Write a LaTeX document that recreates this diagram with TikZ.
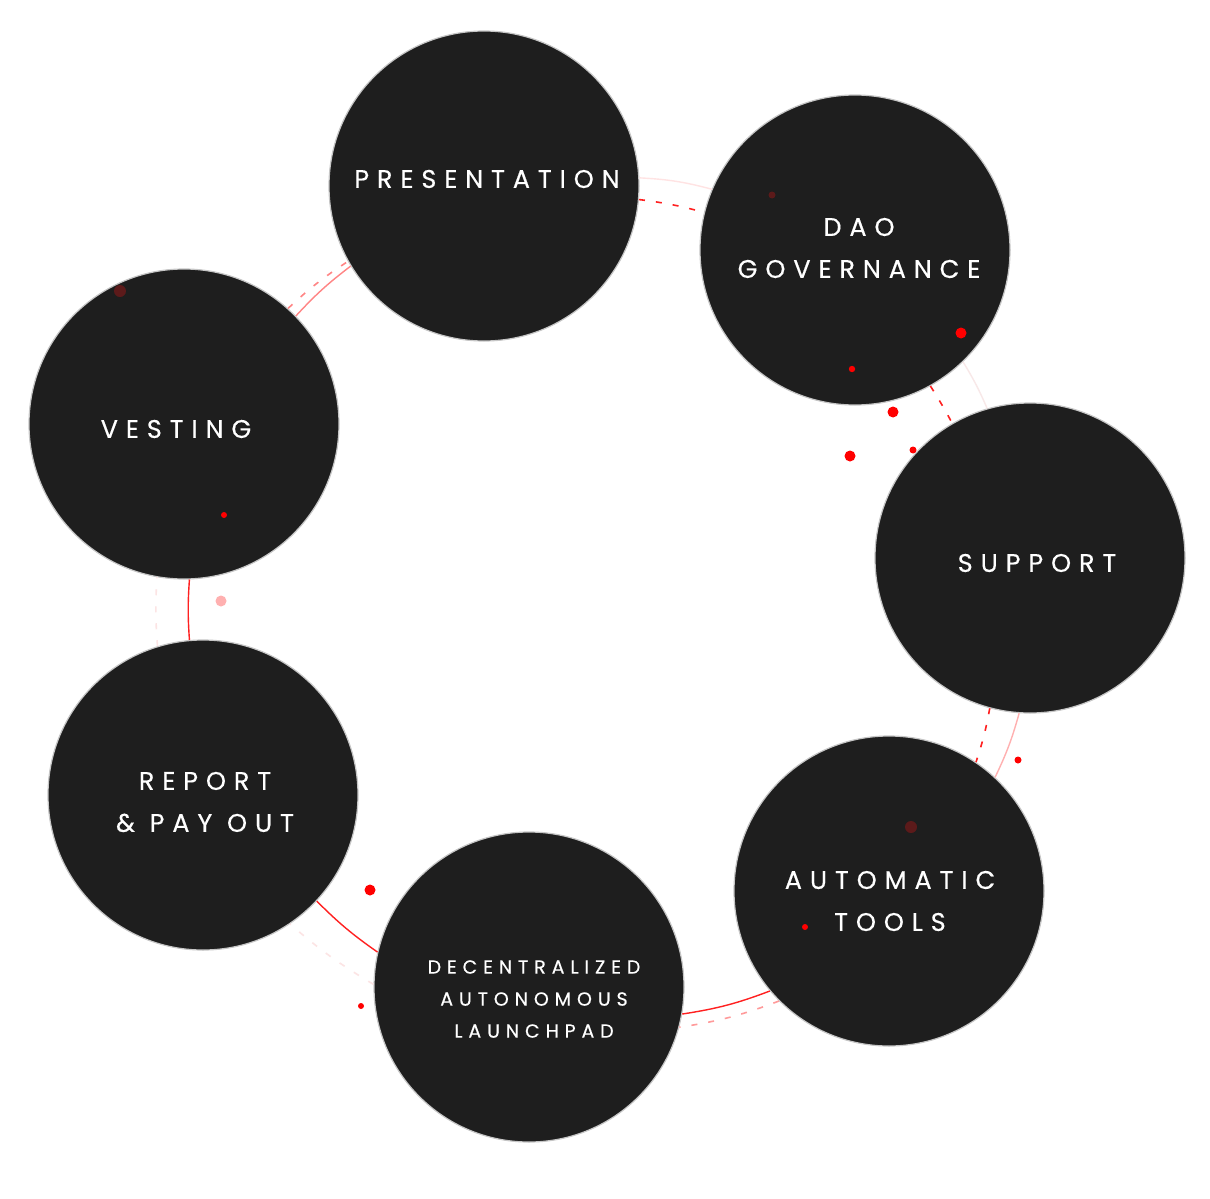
\documentclass[tikz,border=0pt]{standalone}
\usepackage{fontspec}
\setmainfont{Poppins}
\newfontfamily\capsfont[LetterSpace=31,FakeBold=0.4]{Poppins}
\usetikzlibrary{arrows,positioning}
\definecolor{discfill}{HTML}{1E1E1E}
\definecolor{rim}{HTML}{C6C6C6}
\definecolor{darkspot}{HTML}{5C1A1A}
\definecolor{ringA}{HTML}{FFE3E3}
\definecolor{ringB}{HTML}{F8E8E8}
\definecolor{ringC}{HTML}{FFB0B0}
\definecolor{ringD}{HTML}{FF2020}
\definecolor{ringE}{HTML}{FF9A9A}
\definecolor{ringF}{HTML}{FCE4E4}
\definecolor{ringG}{HTML}{FF8585}
\tikzset{
    %Define style for the discs
    main node/.style={
           circle,
           draw=rim, line width=1.2pt,
           fill=discfill,
           minimum size=310pt,
           inner sep=0pt},
    %Define style for the labels
    bigtext/.style={
           text=white,
           align=center,
           font=\capsfont\fontsize{25.5}{42}\selectfont},
    smalltext/.style={
           text=white,
           align=center,
           font=\capsfont\fontsize{19}{32}\selectfont},
    % Define ring styles
    ring/.style={
           line width=1.4pt},
    dashring/.style={
           line width=1.6pt,
           dash pattern=on 6pt off 11pt},
    spot/.style={
           fill=red}
}
\begin{document}
\begin{tikzpicture}[x=1pt,y=-1pt]
\fill[white] (0,0) rectangle (1210,1199);
\useasboundingbox (0,0) rectangle (1210,1199);
 %rings
\coordinate (r1) at (484,186);
\coordinate (r2) at (855,250);
\coordinate (r3) at (1030,558);
\coordinate (r4) at (889,891);
\coordinate (r5) at (529,987);
\coordinate (r6) at (203,795);
\coordinate (r7) at (184,424);
 %nodes
\node[main node] (1) at (r1) {};
\node[main node] (2) at (r2) {};
\node[main node] (3) at (r3) {};
\node[main node] (4) at (r4) {};
\node[main node] (5) at (r5) {};
\node[main node] (6) at (r6) {};
\node[main node] (7) at (r7) {};
 \path[ring]
    (1.3) edge[draw=ringA, bend left=6] (2.157)
    (2.-46) edge[draw=ringB, bend left=4] (3.106)
    (3.-94) edge[draw=ringC, bend left=5] (4.47)
    (4.-140) edge[draw=ringD, bend left=6] (5.-10)
    (5.167) edge[draw=ringD, bend left=5] (6.-43)
    (6.95) edge[draw=ringD, bend left=4] (7.-88)
    (7.44) edge[draw=ringG, bend left=5] (1.-149);
 \path[dashring]
    (1.-5) edge[draw=ringD, bend left=4] (2.166)
    (2.-61) edge[draw=ringD, bend left=2] (3.120)
    (3.-105) edge[draw=ringD, bend left=4] (4.56)
    (4.-135) edge[draw=ringE, bend left=6] (5.-15)
    (5.179) edge[draw=ringF, bend left=5] (6.-56)
    (6.107) edge[draw=ringF, bend left=4] (7.-100)
    (7.48) edge[draw=ringG, bend left=5] (1.-151);
 %labels
\node[bigtext] (t1) at (487,179) {PRESENTATION};
\node[bigtext] (t2) at (859,248) {DAO\\GOVERNANCE};
\node[bigtext] (t3) at (1037,563) {SUPPORT};
\node[bigtext] (t4) at (890,901) {AUTOMATIC\\TOOLS};
\node[smalltext] (t5) at (534,999) {DECENTRALIZED\\AUTONOMOUS\\LAUNCHPAD};
\node[bigtext] (t6) at (205,802) {REPORT\\\&~PAY OUT};
\node[bigtext] (t7) at (176,429) {VESTING};
 %spots
\fill[darkspot] (772,195) circle (3.5pt);
\fill[spot] (961,333) circle (5.5pt);
\fill[spot] (852,369) circle (3.2pt);
\fill[spot] (893,412) circle (5.5pt);
\fill[spot] (850,456) circle (5.5pt);
\fill[spot] (913,450) circle (3.5pt);
\fill[spot] (1018,760) circle (3.5pt);
\fill[darkspot] (911,827) circle (6pt);
\fill[spot] (805,927) circle (3pt);
\fill[spot] (370,890) circle (5.5pt);
\fill[spot] (361,1006) circle (3pt);
\fill[ringC] (221,601) circle (5.5pt);
\fill[spot] (224,515) circle (3pt);
\fill[darkspot] (120,291) circle (6pt);
\end{tikzpicture}
\end{document}
